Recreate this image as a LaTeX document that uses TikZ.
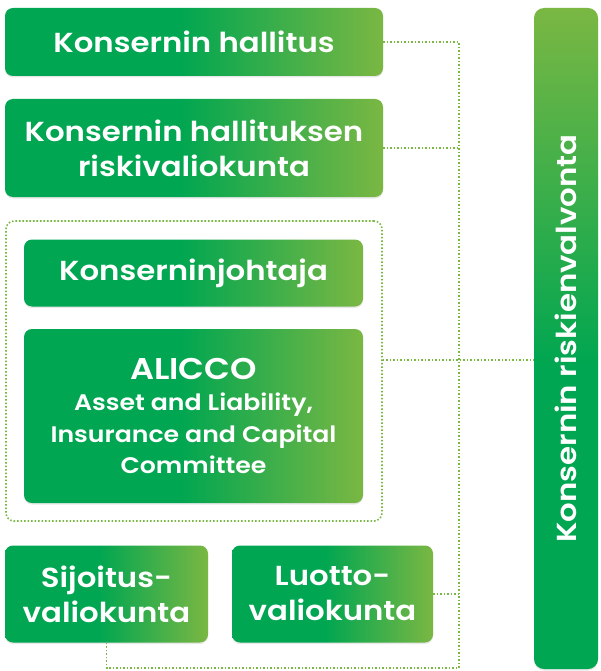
\documentclass[tikz,border=0pt]{standalone}
\usepackage{fontspec}
\setmainfont{Poppins}[FakeStretch=1.12, BoldFont={Poppins SemiBold}]
\usetikzlibrary{shadows}
\definecolor{gdark}{HTML}{00A651}
\definecolor{glight}{HTML}{7AB743}
\definecolor{gline}{HTML}{7AB743}
\pgfdeclarehorizontalshading{boxgrad}{100bp}{color(0bp)=(gdark); color(48bp)=(gdark); color(75bp)=(glight); color(100bp)=(glight)}
\tikzset{
  orgbox/.style={rounded corners=8pt, shading=boxgrad, text=white, align=center,
    inner sep=0pt, font=\bfseries\fontsize{27.5}{35}\selectfont,
    drop shadow={opacity=0.18,shadow xshift=0pt,shadow yshift=-1.5pt}},
  link/.style={gline, line width=1.6pt, dash pattern=on 1.6pt off 1.9pt}
}
\begin{document}
\begin{tikzpicture}[x=1pt,y=-1pt]
  \useasboundingbox (0,0) rectangle (600,671);
  % left column
  \node[orgbox, minimum width=378pt, minimum height=68pt] (hall) at (194,42) {Konsernin hallitus};
  \node[orgbox, minimum width=378pt, minimum height=98pt] (riski) at (194,148) {Konsernin hallituksen\\riskivaliokunta};
  \node[orgbox, minimum width=339pt, minimum height=67pt] (johtaja) at (193.5,273) {Konserninjohtaja};
  \node[orgbox, font=\bfseries\fontsize{22.5}{31.5}\selectfont, minimum width=339pt, minimum height=174pt] (alicco) at (193.5,416)
    {{\fontsize{30}{34}\selectfont ALICCO}\\Asset and Liability,\\Insurance and Capital\\Committee};
  \node[link, draw, rounded corners=8pt, minimum width=376pt, minimum height=300pt] (grp) at (194,371) {};
  \node[orgbox, minimum width=203pt, minimum height=97pt] (sij) at (106.5,594) {Sijoitus-\\valiokunta};
  \node[orgbox, minimum width=201pt, minimum height=97pt] (luo) at (332.5,594) {Luotto-\\valiokunta};
  % right bar
  \node[orgbox, rounded corners=10pt, shading angle=90, minimum width=64pt, minimum height=661pt] (bar) at (566,338.5) {};
  \node[text=white, rotate=90, font=\bfseries\fontsize{27.5}{30}\selectfont] (bartxt) at (bar.center) {Konsernin riskienvalvonta};
  % connectors
  \coordinate (ttop) at (459,42);
  \coordinate (tbot) at (459,668);
  \draw[link] (hall.east) -- (ttop) -- (tbot) -| (sij.south);
  \draw[link] (riski.east) -- (riski.east -| ttop);
  \draw[link] (luo.east) -- (luo.east -| ttop);
  \draw[link] ([yshift=11pt]grp.east) -- ([yshift=11pt]grp.east -| bar.west);
\end{tikzpicture}
\end{document}
